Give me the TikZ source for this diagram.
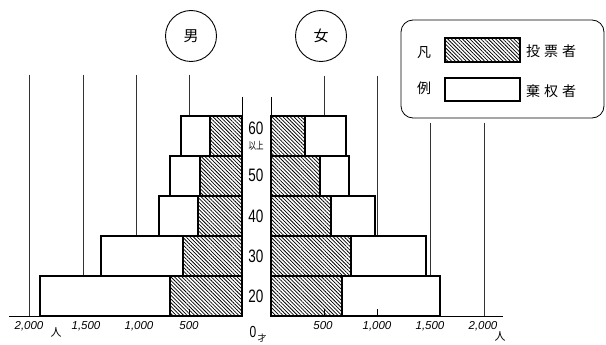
\documentclass[tikz,border=0pt]{standalone}
\usepackage{fontspec}
\setmainfont{Liberation Sans}
\newfontfamily\jp{Noto Sans CJK JP}
\usetikzlibrary{patterns.meta}
\newcommand{\narrowtxt}[1]{\scalebox{0.75}[1]{#1}}
\begin{document}
\begin{tikzpicture}[x=1pt,y=-1pt,
  grid/.style={line width=0.6pt,black!80},
  barw/.style={draw,line width=1.4pt,fill=white},
  barh/.style={draw,line width=1.4pt,fill=white,postaction={pattern={Lines[angle=-45,distance=2.6pt,line width=0.75pt]}}},
  axlab/.style={font=\fontsize{11.5}{11.5}\selectfont\itshape,inner sep=0pt},
  agelab/.style={font=\fontsize{18}{18}\selectfont,inner sep=0pt},
  jpt/.style={font=\jp\fontsize{14}{14}\selectfont,inner sep=0pt}]
\useasboundingbox (0,0) rectangle (606,345);
% grid lines
\foreach \x in {29,83,136,189} \draw[grid] (\x,75) -- (\x,316);
\foreach \x in {324,377} \draw[grid] (\x,76) -- (\x,316);
\foreach \x in {430,484} \draw[grid] (\x,123) -- (\x,316);
% axis lines
\draw[line width=0.8pt] (242,97) -- (242,316);
\draw[line width=0.8pt] (271,97) -- (271,316);
% bars: top, male hatched x, male white x, female hatched x, female white x
\foreach \t/\mh/\mw/\fh/\fw in {276/170/40/342/440, 236/183/101/351/426, 196/198/159/331/375, 156/200/170/320/349, 116/210/181/305/346}{
  \draw[barw] (\mw,\t) rectangle (\mh,\t+40);
  \draw[barh] (\mh,\t) rectangle (242,\t+40);
  \draw[barh] (271,\t) rectangle (\fh,\t+40);
  \draw[barw] (\fh,\t) rectangle (\fw,\t+40);
}
% baseline
\draw[line width=0.8pt] (9,316) -- (242,316);
\draw[line width=0.8pt] (271,316) -- (503,316);
\foreach \x in {189,324,377} \draw[line width=0.6pt] (\x,309) -- (\x,316);
% age labels
\node[agelab] (a60) at (256,128) {\narrowtxt{60}};
\node[font=\jp\fontsize{10}{10}\selectfont,inner sep=0pt] (a60b) at (256,146) {\narrowtxt{以上}};
\node[agelab] (a50) at (256,175) {\narrowtxt{50}};
\node[agelab] (a40) at (256,216) {\narrowtxt{40}};
\node[agelab] (a30) at (256,256) {\narrowtxt{30}};
\node[agelab] (a20) at (256,296) {\narrowtxt{20}};
% axis labels
\node[axlab] (l2000) at (29,326) {2,000};
\node[font=\jp\fontsize{11}{11}\selectfont,inner sep=0pt] (lren) at (56,332) {人};
\node[axlab] (l1500) at (86,326) {1,500};
\node[axlab] (l1000) at (139,326) {1,000};
\node[axlab] (l500) at (189,326) {500};
\node[font=\fontsize{16}{16}\selectfont,inner sep=0pt] (zero) at (253,332) {\narrowtxt{0}};
\node[font=\jp\fontsize{9}{9}\selectfont,inner sep=0pt] (sai) at (262,338) {才};
\node[axlab] (r500) at (323,326) {500};
\node[axlab] (r1000) at (377,326) {1,000};
\node[axlab] (r1500) at (430,326) {1,500};
\node[axlab] (r2000) at (483,326) {2,000};
\node[font=\jp\fontsize{11}{11}\selectfont,inner sep=0pt] (rren) at (500,336) {人};
% circles
\node[draw,circle,line width=0.9pt,minimum size=51pt,inner sep=0pt,font=\jp\fontsize{15}{15}\selectfont] (male) at (191,36) {男};
\node[draw,circle,line width=0.9pt,minimum size=51pt,inner sep=0pt,font=\jp\fontsize{15}{15}\selectfont] (female) at (321,36) {女};
% legend
\draw[line width=0.8pt,rounded corners=12pt] (401,20) rectangle (604,118);
\node[jpt] (fan) at (424,53) {凡};
\node[jpt] (li) at (424,88) {例};
\draw[barh,line width=1.2pt] (445,38) rectangle (520,62);
\draw[barw,line width=1.2pt] (445,78) rectangle (520,101);
\node[jpt,anchor=west] (vote) at (526,51) {投\hspace{4pt}票\hspace{4pt}者};
\node[jpt,anchor=west] (abst) at (526,91) {棄\hspace{4pt}权\hspace{4pt}者};
\end{tikzpicture}
\end{document}
